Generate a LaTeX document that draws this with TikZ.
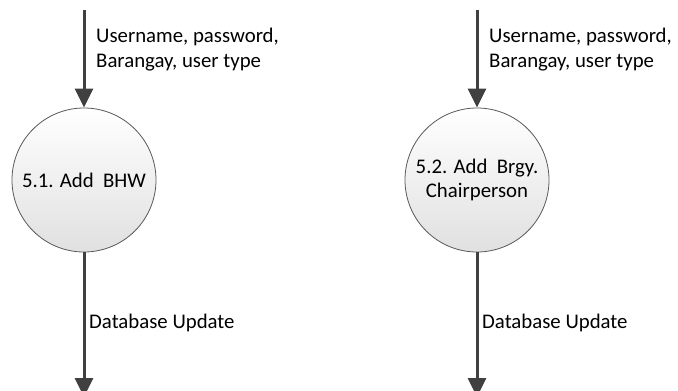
\documentclass[tikz,border=0pt]{standalone}
\usepackage{fontspec}
\setmainfont{Carlito}
\usetikzlibrary{arrows.meta}
\definecolor{flowc}{HTML}{404040}
\definecolor{edgec}{HTML}{595959}
\tikzset{
  process/.style={circle, draw=edgec, line width=0.8pt, minimum size=144pt, inner sep=0pt,
    top color=white, bottom color=black!12, align=center,
    font=\fontsize{20.8pt}{24pt}\selectfont},
  flow/.style={draw=flowc, line width=3pt, -{Triangle[length=19pt,width=18pt]}},
  flowlabel/.style={inner sep=0pt, align=left, font=\fontsize{20.8pt}{25pt}\selectfont}
}
\begin{document}
\begin{tikzpicture}[x=1pt,y=-1pt]
\useasboundingbox (0,0) rectangle (678,391);
\clip (0,0) rectangle (678,391);
\node[process] (c1) at (84,180) {5.1. Add\ \ BHW};
\node[process] (c2) at (477,180) {5.2. Add\ \ Brgy.\\Chairperson};
\coordinate (s1) at (84,10);
\coordinate (s2) at (477,10);
\coordinate (e1) at (84,397);
\coordinate (e2) at (477,397);
\draw[flow] (s1) -- (c1.north);
\draw[flow] (s2) -- (c2.north);
\draw[flow] (c1.south) -- (e1);
\draw[flow] (c2.south) -- (e2);
\node[flowlabel, anchor=base west] (l1) at (96,67) {Username, password,\\Barangay, user type};
\node[flowlabel, anchor=base west] (l2) at (489,67) {Username, password,\\Barangay, user type};
\node[flowlabel, anchor=base west] (d1) at (89,328) {Database Update};
\node[flowlabel, anchor=base west] (d2) at (482,328) {Database Update};
\end{tikzpicture}
\end{document}
